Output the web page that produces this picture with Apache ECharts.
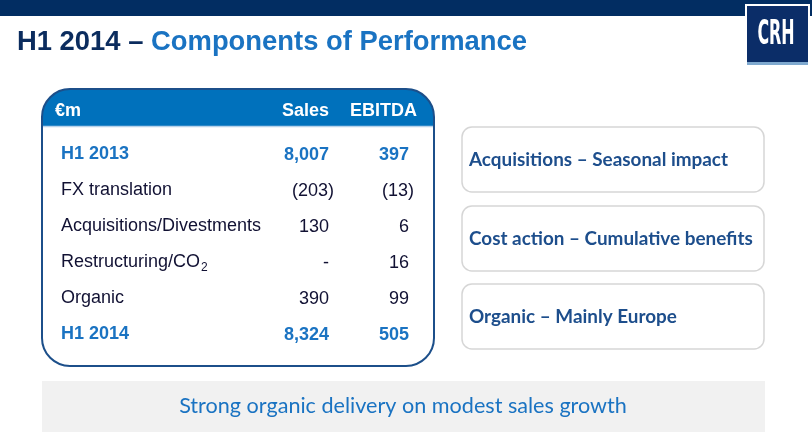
<!DOCTYPE html>
<html>
<head>
<meta charset="utf-8">
<script src="https://cdn.jsdelivr.net/npm/echarts@6/dist/echarts.min.js"></script>
<style>
  html, body { margin: 0; padding: 0; background: #fff; }
  #chart { width: 812px; height: 432px; }
</style>
</head>
<body>
<div id="chart"></div>
<script>
// table data
var unitLabel = '€m';
var columns = ['Sales', 'EBITDA'];
var rowLabels = ['H1 2013', 'FX translation', 'Acquisitions/Divestments', 'Restructuring/CO2', 'Organic', 'H1 2014'];
var totalRows = ['H1 2013', 'H1 2014'];
var salesValues = [8007, -203, 130, null, 390, 8324];
var ebitdaValues = [397, -13, 6, 16, 99, 505];

// side notes and texts
var titleLead = 'H1 2014 – ';
var titleMain = 'Components of Performance';
var notes = ['Acquisitions – Seasonal impact', 'Cost action – Cumulative benefits', 'Organic – Mainly Europe'];
var headline = 'Strong organic delivery on modest sales growth';

var NAVY = '#0b2c5e';
var BLUE = '#1a73c2';
var INK = '#111133';
var ARIAL = '"Liberation Sans", Arial, sans-serif';
var CALIBRI = 'Lato, "Open Sans", sans-serif';

function fmt(v) {
  if (v == null) return '-';
  var s = Math.abs(v).toLocaleString('en-US');
  return v < 0 ? '(' + s + ')' : s;
}

var myChart = echarts.init(document.getElementById('chart'));

// one point per table cell, placed by the category axes
var cells = [];
[salesValues, ebitdaValues].forEach(function (vals, c) {
  vals.forEach(function (v, r) {
    var total = totalRows.indexOf(rowLabels[r]) >= 0;
    cells.push({
      value: [c, r],
      raw: v,
      label: {
        color: total ? BLUE : INK,
        fontWeight: total ? 'bold' : 'normal',
        offset: [v != null && v < 0 ? 5 : 0, 0]
      }
    });
  });
});

var graphics = [
  // top band
  { type: 'rect', shape: { x: 0, y: 0, width: 812, height: 16 }, style: { fill: '#022d62' } },
  // logo
  { type: 'rect', shape: { x: 745, y: 4, width: 65, height: 63 }, style: { fill: '#fff' } },
  { type: 'rect', shape: { x: 747, y: 6, width: 61, height: 56 }, style: { fill: '#0b2d68' } },
  { type: 'rect', shape: { x: 747, y: 62, width: 61, height: 3 }, style: { fill: '#7fa9cf' } },
  { type: 'text', x: 776, y: 35, scaleX: 0.52, style: { text: 'CRH', fill: '#fff', font: 'bold 34px "DejaVu Sans Condensed", sans-serif', textAlign: 'center', textVerticalAlign: 'middle' } },
  // title
  { type: 'text', x: 17, y: 42, style: {
      text: '{a|' + titleLead + '}{b|' + titleMain + '}',
      textVerticalAlign: 'middle',
      rich: {
        a: { fill: NAVY, font: 'bold 27.4px ' + ARIAL },
        b: { fill: BLUE, font: 'bold 27.4px ' + ARIAL }
      }
  } },
  // table frame
  { type: 'rect', shape: { x: 42, y: 89, width: 392, height: 277, r: 28 }, style: { fill: '#fff' } },
  { type: 'rect', shape: { x: 42, y: 89, width: 392, height: 37, r: [28, 28, 0, 0] }, style: { fill: '#0071bc' } },
  { type: 'line', shape: { x1: 43, y1: 126.5, x2: 433, y2: 126.5 }, style: { stroke: '#b8d2ea', lineWidth: 1.5 } },
  { type: 'rect', z: 1, shape: { x: 42, y: 89, width: 392, height: 277, r: 28 }, style: { fill: null, stroke: '#1c4f8a', lineWidth: 2 } },
  { type: 'text', z: 1, x: 55, y: 111, style: { text: unitLabel, fill: '#fff', font: 'bold 18px ' + ARIAL, textVerticalAlign: 'middle' } },
  { type: 'text', z: 1, x: 329, y: 111, style: { text: columns[0], fill: '#fff', font: 'bold 18px ' + ARIAL, textAlign: 'right', textVerticalAlign: 'middle' } },
  { type: 'text', z: 1, x: 417, y: 111, style: { text: columns[1], fill: '#fff', font: 'bold 18px ' + ARIAL, textAlign: 'right', textVerticalAlign: 'middle' } },
  // bottom banner
  { type: 'rect', shape: { x: 42, y: 381, width: 723, height: 51 }, style: { fill: '#f1f1f1' } },
  { type: 'text', x: 403, y: 406, style: { text: headline, fill: BLUE, font: '21.6px ' + CALIBRI, textAlign: 'center', textVerticalAlign: 'middle' } }
];

var boxTops = [127, 206, 284];
notes.forEach(function (t, i) {
  graphics.push({ type: 'rect', shape: { x: 462, y: boxTops[i], width: 302, height: 65, r: 10 }, style: { fill: '#fff', stroke: '#d6d6d6', lineWidth: 1.5 } });
  graphics.push({ type: 'text', x: 469, y: boxTops[i] + 33, style: { text: t, fill: '#1d4e8c', font: 'bold 18.9px ' + CALIBRI, textVerticalAlign: 'middle' } });
});

myChart.setOption({
  backgroundColor: '#fff',
  animation: false,
  graphic: graphics,
  grid: { left: 329, top: 137, width: 80, height: 216 },
  xAxis: {
    type: 'category',
    data: columns,
    boundaryGap: false,
    show: false
  },
  yAxis: {
    type: 'category',
    data: rowLabels,
    inverse: true,
    axisLine: { show: false },
    axisTick: { show: false },
    splitLine: { show: false },
    axisLabel: {
      align: 'left',
      margin: 268,
      formatter: function (name) {
        var style = totalRows.indexOf(name) >= 0 ? 't' : 'n';
        if (/CO2$/.test(name)) {
          return '{' + style + '|' + name.slice(0, -1) + '}{sub|2}';
        }
        return '{' + style + '|' + name + '}';
      },
      rich: {
        n: { color: INK, fontSize: 18, fontFamily: ARIAL, lineHeight: 20, verticalAlign: 'top' },
        t: { color: BLUE, fontSize: 18, fontWeight: 'bold', fontFamily: ARIAL, lineHeight: 20, verticalAlign: 'top' },
        sub: { color: INK, fontSize: 12, fontFamily: ARIAL, lineHeight: 12, padding: [9, 0, 0, 1], verticalAlign: 'top' }
      }
    }
  },
  series: [{
    type: 'scatter',
    symbolSize: 0,
    silent: true,
    itemStyle: { opacity: 1 },
    data: cells,
    label: {
      show: true,
      position: 'left',
      distance: 0,
      fontSize: 18,
      fontFamily: ARIAL,
      opacity: 1,
      textBorderWidth: 0,
      formatter: function (p) { return fmt(p.data.raw); }
    }
  }]
});
</script>
</body>
</html>
